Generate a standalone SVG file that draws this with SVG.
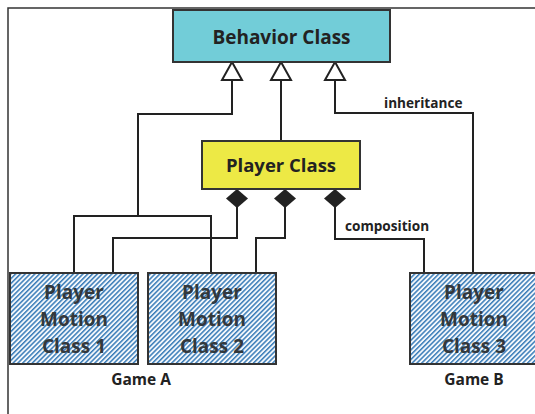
<svg xmlns="http://www.w3.org/2000/svg" width="535" height="414" viewBox="0 0 535 414">
<defs>
<style>
.ln{fill:none;stroke:#222;stroke-width:2;}
.lbl{font-family:"Open Sans","Liberation Sans",sans-serif;font-weight:bold;fill:#222;}
.big1{font-size:19px;text-anchor:middle;}
.big2{font-size:18.5px;text-anchor:middle;}
.mot{font-family:"Open Sans","Liberation Sans",sans-serif;font-weight:bold;font-size:19px;fill:#33383c;text-anchor:middle;}
.small{font-size:13.6px;}
.game{font-size:15.5px;text-anchor:middle;}
.hbox{fill:url(#hatch);stroke:#333;stroke-width:2;}
</style>
<pattern id="hatch" patternUnits="userSpaceOnUse" width="3.4" height="3.4" patternTransform="rotate(45)">
<rect width="3.4" height="3.4" fill="#f4f8fc"/>
<rect width="1.5" height="3.4" fill="#3a7cb8"/>
</pattern>
</defs>
<rect width="535" height="414" fill="#fff"/>
<path d="M8,414 L8,8 L540,8" fill="none" stroke="#333" stroke-width="1.5"/>
<g id="connectors">
<path class="ln" d="M232,80 L232,114 L138,114 L138,216"/>
<path class="ln" d="M74,273 L74,216 L211,216 L211,273"/>
<path class="ln" d="M281,80 L281,141"/>
<path class="ln" d="M335,80 L335,113 L473,113 L473,273"/>
<path d="M232,62 L242,80 L222,80 Z" fill="#fff" stroke="#222" stroke-width="2"/>
<path d="M281,62 L291,80 L271,80 Z" fill="#fff" stroke="#222" stroke-width="2"/>
<path d="M335,62 L345,80 L325,80 Z" fill="#fff" stroke="#222" stroke-width="2"/>
<path class="ln" d="M237,207 L237,238 L113,238 L113,273"/>
<path class="ln" d="M285,207 L285,238 L256,238 L256,273"/>
<path class="ln" d="M335,207 L335,239 L424,239 L424,273"/>
<path d="M237,189 L248,198.5 L237,208 L226,198.5 Z" fill="#222"/>
<path d="M285,189 L296,198.5 L285,208 L274,198.5 Z" fill="#222"/>
<path d="M335,189 L346,198.5 L335,208 L324,198.5 Z" fill="#222"/>
<text class="lbl small" x="384" y="108">inheritance</text>
<text class="lbl small" x="345" y="231">composition</text>
</g>
<g id="behavior">
<rect x="173" y="10" width="217" height="52" fill="#72cdd8" stroke="#333" stroke-width="2"/>
<text class="lbl big1" x="281.5" y="43.5">Behavior Class</text>
</g>
<g id="player">
<rect x="202" y="141" width="158" height="48" fill="#ede945" stroke="#333" stroke-width="2"/>
<text class="lbl big2" x="281" y="171.5">Player Class</text>
</g>
<g id="motion1">
<rect class="hbox" x="10" y="273" width="128" height="91"/>
<text class="mot" x="74" y="299">Player</text>
<text class="mot" x="74" y="326">Motion</text>
<text class="mot" x="74" y="353">Class 1</text>
</g>
<g id="motion2">
<rect class="hbox" x="148" y="273" width="128" height="91"/>
<text class="mot" x="212" y="299">Player</text>
<text class="mot" x="212" y="326">Motion</text>
<text class="mot" x="212" y="353">Class 2</text>
</g>
<g id="motion3">
<rect class="hbox" x="410" y="273" width="128" height="91"/>
<text class="mot" x="474" y="299">Player</text>
<text class="mot" x="474" y="326">Motion</text>
<text class="mot" x="474" y="353">Class 3</text>
</g>
<text class="lbl game" x="141" y="385">Game A</text>
<text class="lbl game" x="474" y="385">Game B</text>
</svg>
